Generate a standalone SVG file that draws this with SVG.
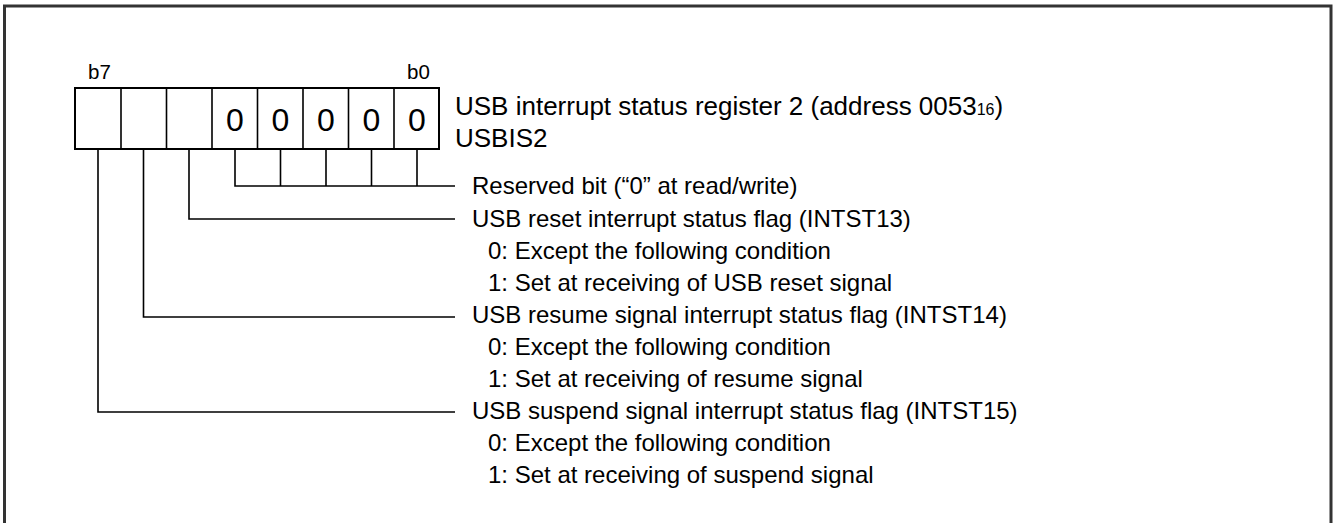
<svg xmlns="http://www.w3.org/2000/svg" width="1333" height="523" viewBox="0 0 1333 523">
<style>
text{font-family:"Liberation Sans",Arial,sans-serif;fill:#000}
.t{font-size:24px}
.h{font-size:26px}
.s{font-size:20.5px}
.d{font-size:32px}
.ln{fill:none;stroke:#000;stroke-width:1.6}
.bx{fill:#fff;stroke:#000;stroke-width:2}
</style>
<rect width="1333" height="523" fill="#fff"/>
<path d="M4.5 523V6H1331V523" fill="none" stroke="#333" stroke-width="3"/>
<g id="register">
<rect class="bx" x="75" y="88" width="364" height="61"/>
<path class="ln" d="M121 88V149M166.5 88V149M212 88V149M257.5 88V149M303 88V149M348.5 88V149M394 88V149" stroke-width="2"/>
<text class="s" x="88" y="79">b7</text>
<text class="s" x="407" y="79">b0</text>
<text class="d" x="235" y="131" text-anchor="middle">0</text>
<text class="d" x="280.5" y="131" text-anchor="middle">0</text>
<text class="d" x="326" y="131" text-anchor="middle">0</text>
<text class="d" x="371.5" y="131" text-anchor="middle">0</text>
<text class="d" x="417" y="131" text-anchor="middle">0</text>
</g>
<g id="title">
<text class="h" x="455" y="115">USB interrupt status register 2 (address 0053<tspan font-size="16">16</tspan>)</text>
<text class="h" x="455" y="147">USBIS2</text>
</g>
<g id="connectors">
<path class="ln" d="M235 149V186H455M280.5 149V186M326 149V186M371.5 149V186M417 149V186"/>
<path class="ln" d="M189 149V219H455"/>
<path class="ln" d="M143.5 149V317H455"/>
<path class="ln" d="M98 149V412H455"/>
</g>
<g id="reserved">
<text class="t" x="472" y="194">Reserved bit (“0” at read/write)</text>
</g>
<g id="intst13">
<text class="t" x="472" y="227">USB reset interrupt status flag (INTST13)</text>
<text class="t" x="488" y="259">0: Except the following condition</text>
<text class="t" x="488" y="291">1: Set at receiving of USB reset signal</text>
</g>
<g id="intst14">
<text class="t" x="472" y="323">USB resume signal interrupt status flag (INTST14)</text>
<text class="t" x="488" y="355">0: Except the following condition</text>
<text class="t" x="488" y="387">1: Set at receiving of resume signal</text>
</g>
<g id="intst15">
<text class="t" x="472" y="419">USB suspend signal interrupt status flag (INTST15)</text>
<text class="t" x="488" y="451">0: Except the following condition</text>
<text class="t" x="488" y="483">1: Set at receiving of suspend signal</text>
</g>
</svg>
